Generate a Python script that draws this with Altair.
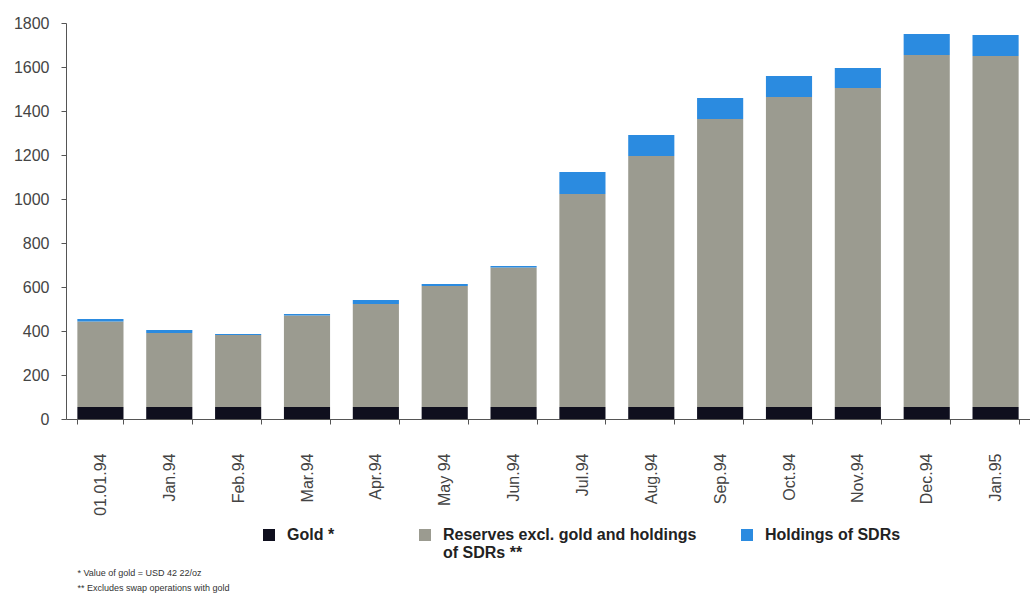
import altair as alt
import pandas as pd

categories = ["01.01.94", "Jan.94", "Feb.94", "Mar.94", "Apr.94", "May 94", "Jun.94",
              "Jul.94", "Aug.94", "Sep.94", "Oct.94", "Nov.94", "Dec.94", "Jan.95"]
gold = [55, 55, 55, 55, 55, 55, 55, 55, 55, 55, 55, 55, 55, 55]
reserves = [388, 336, 327, 416, 468, 549, 634, 968, 1140, 1309, 1409, 1450, 1600, 1595]
sdrs = [12, 14, 4, 6, 18, 10, 6, 100, 96, 95, 95, 90, 95, 95]

series_names = ["Gold *", "Reserves excl. gold and holdings of SDRs **", "Holdings of SDRs"]
series_colors = ["#0f0f1e", "#9b9b90", "#2b8be0"]
y_ticks = [0, 200, 400, 600, 800, 1000, 1200, 1400, 1600, 1800]

rows = []
for i, c in enumerate(categories):
    for k, (name, vals) in enumerate(zip(series_names, [gold, reserves, sdrs])):
        rows.append({"month": c, "series": name, "value": vals[i], "order": k})
df = pd.DataFrame(rows)

FONT = "Liberation Sans, Arial, sans-serif"
NB = "\u00a0"
ZW = "\u200b"

label_expr = (
    "datum.label == 'Gold *' ? ['Gold *" + NB * 9 + ZW + "', '" + ZW + "'] : "
    "(datum.label == 'Reserves excl. gold and holdings of SDRs **' ? "
    "['Reserves excl. gold and holdings', 'of SDRs **'] : [datum.label, '" + ZW + "'])"
)

chart = alt.Chart(df).mark_bar().encode(
    x=alt.X("month:N", sort=categories, title=None,
            scale=alt.Scale(paddingInner=0.33, paddingOuter=0.165),
            axis=alt.Axis(labelAngle=270, labelFontSize=16, labelPadding=29,
                          tickSize=5, tickBand="extent", labelColor="#444",
                          labelFont=FONT, domainColor="#555", tickColor="#555")),
    y=alt.Y("value:Q", stack="zero", title=None,
            scale=alt.Scale(domain=[0, 1800], nice=False),
            axis=alt.Axis(values=y_ticks, format="d", grid=False, labelFontSize=16,
                          labelPadding=12, tickSize=5, labelColor="#444", labelFont=FONT,
                          domainColor="#555", tickColor="#555")),
    color=alt.Color("series:N", sort=series_names,
                    scale=alt.Scale(domain=series_names, range=series_colors),
                    legend=alt.Legend(title=None, orient="none", direction="horizontal",
                                      legendX=195, legendY=504, symbolType="square",
                                      symbolSize=144, symbolStrokeWidth=0,
                                      labelFont=FONT, labelFontSize=16, labelFontWeight="bold",
                                      labelColor="#222", labelOffset=10, labelLimit=400,
                                      columnPadding=42, labelExpr=label_expr,
                                      padding=0)),
    order=alt.Order("order:Q", sort="ascending"),
).properties(
    width=964, height=396,
    title=alt.TitleParams(
        text=["*  Value of gold = USD 42 22/oz", "** Excludes swap operations with gold"],
        orient="bottom", anchor="start", fontSize=9, fontWeight="normal",
        font="Liberation Sans Narrow, Liberation Sans, Arial", color="#333",
        lineHeight=15, dx=64, offset=8),
    autosize=alt.AutoSizeParams(type="none"),
    padding={"left": 66, "top": 23, "right": 0, "bottom": 180},
).configure_view(stroke=None)

chart.save("out.html", embed_options={"renderer": "svg", "actions": False})
